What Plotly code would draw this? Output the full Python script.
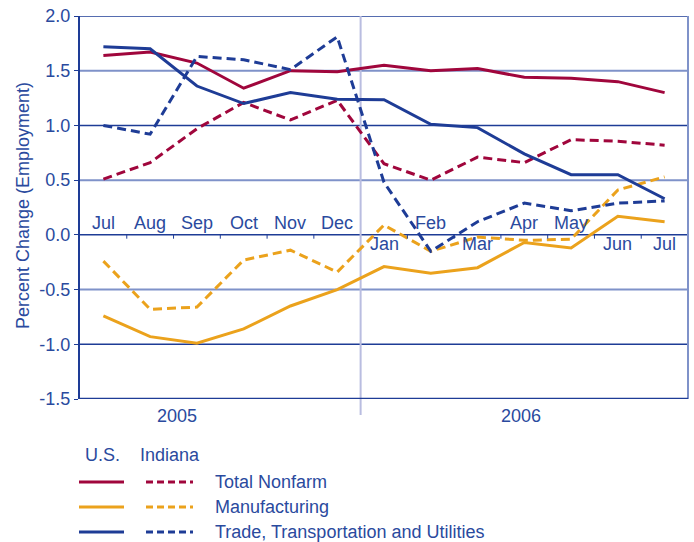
import plotly.graph_objects as go

months = ["Jul", "Aug", "Sep", "Oct", "Nov", "Dec", "Jan", "Feb", "Mar", "Apr", "May", "Jun", "Jul"]
label_below = [False, False, False, False, False, False, True, False, True, False, False, True, True]
years = ["2005", "2006"]

us_nonfarm = [1.64, 1.67, 1.57, 1.34, 1.50, 1.49, 1.55, 1.50, 1.52, 1.44, 1.43, 1.40, 1.30]
in_nonfarm = [0.51, 0.66, 0.97, 1.21, 1.05, 1.23, 0.65, 0.50, 0.71, 0.66, 0.87, 0.855, 0.82]
us_mfg = [-0.74, -0.93, -0.99, -0.86, -0.65, -0.50, -0.29, -0.35, -0.30, -0.07, -0.12, 0.17, 0.12]
in_mfg = [-0.24, -0.68, -0.66, -0.23, -0.14, -0.34, 0.09, -0.15, -0.02, -0.05, -0.04, 0.41, 0.53]
us_trade = [1.72, 1.70, 1.36, 1.20, 1.30, 1.24, 1.235, 1.01, 0.98, 0.74, 0.55, 0.55, 0.33]
in_trade = [1.00, 0.92, 1.63, 1.60, 1.51, 1.81, 0.48, -0.15, 0.12, 0.29, 0.22, 0.29, 0.31]

series_names = ["Total Nonfarm", "Manufacturing", "Trade, Transportation and Utilities"]
colors = ["#A0063C", "#EBA21C", "#1E3C96"]
TEXT = "#2A4A9E"
DARK = "#1E3C96"
LIGHT = "#7F92C9"
FONT = "Liberation Sans, Arial, sans-serif"
FS = 18

W, H = 694, 542
L, R, T, B = 80, 6, 16, 143
pw, ph = W - L - R, H - T - B


def px(xp):
    return (xp - L) / pw


def py(yp):
    return (H - B - yp) / ph


def label(xp, yp, text, **kw):
    d = dict(x=px(xp), y=py(yp), xref="paper", yref="paper", text=text, showarrow=False,
             xanchor="center", yanchor="middle", font=dict(size=FS, color=TEXT, family=FONT))
    d.update(kw)
    return d


x = list(range(len(months)))
fig = go.Figure()

# grid lines (alternating dark / light)
for v in [2.0, 1.5, 1.0, 0.5, 0.0, -0.5, -1.0]:
    dark = abs(v * 2) % 2 == 0
    fig.add_shape(type="line", xref="paper", yref="y", x0=0, x1=1, y0=v, y1=v,
                  line=dict(color=DARK if dark else LIGHT, width=1.5 if dark else 2), layer="below")
# right border
fig.add_shape(type="line", xref="paper", yref="paper", x0=1, x1=1, y0=0, y1=1,
              line=dict(color=LIGHT, width=2), layer="below")
# year separator
fig.add_shape(type="line", xref="x", yref="paper", x0=5.5, x1=5.5, y0=py(415), y1=1,
              line=dict(color="#B9BDE0", width=2), layer="below")
# small ticks on zero line
for i in range(len(months) - 1):
    if i == 5:
        continue
    fig.add_shape(type="line", xref="x", yref="y", x0=i + 0.5, x1=i + 0.5, y0=0, y1=-0.035,
                  line=dict(color=DARK, width=1))

data = [(us_nonfarm, in_nonfarm), (us_mfg, in_mfg), (us_trade, in_trade)]
for (us, ind), name, c in zip(data, series_names, colors):
    fig.add_trace(go.Scatter(x=x, y=ind, mode="lines", name="Indiana " + name,
                             line=dict(color=c, width=3, dash="9px,5px")))
    fig.add_trace(go.Scatter(x=x, y=us, mode="lines", name="U.S. " + name,
                             line=dict(color=c, width=3)))

# bottom axis line
fig.add_shape(type="line", xref="paper", yref="y", x0=0, x1=1, y0=-1.5, y1=-1.5,
              line=dict(color=DARK, width=2.5))

ann = []
for i, (m, below) in enumerate(zip(months, label_below)):
    ann.append(dict(x=i, y=0, xref="x", yref="y", text=m, showarrow=False,
                    yanchor="top" if below else "bottom", yshift=3 if below else 0,
                    font=dict(size=FS, color=TEXT, family=FONT)))
ann.append(label(177, 416, years[0]))
ann.append(label(521, 416, years[1]))
ann.append(label(23, 206, "Percent Change (Employment)", textangle=-90))
# legend
ann.append(label(102, 455, "U.S."))
ann.append(label(170, 455, "Indiana"))
for k, (name, c) in enumerate(zip(series_names, colors)):
    yp = 482 + 25 * k
    yy = py(yp)
    fig.add_shape(type="line", xref="paper", yref="paper", x0=px(79), x1=px(124), y0=yy, y1=yy,
                  line=dict(color=c, width=3))
    fig.add_shape(type="line", xref="paper", yref="paper", x0=px(146), x1=px(193), y0=yy, y1=yy,
                  line=dict(color=c, width=3, dash="7px,4px"))
    ann.append(label(213, yp, name, xanchor="left"))

fig.update_layout(
    width=W, height=H, margin=dict(l=L, r=R, t=T, b=B, autoexpand=False),
    paper_bgcolor="white", plot_bgcolor="white", showlegend=False,
    annotations=ann,
    xaxis=dict(range=[-0.5, 12.5], visible=False, fixedrange=True, automargin=False),
    yaxis=dict(range=[-1.5, 2.0], tickvals=[2.0, 1.5, 1.0, 0.5, 0.0, -0.5, -1.0, -1.5],
               ticktext=["2.0", "1.5", "1.0", "0.5", "0.0", "-0.5", "-1.0", "-1.5"],
               showgrid=False, zeroline=False, showline=True, linecolor=DARK, linewidth=2,
               automargin=False,
               ticks="outside", ticklen=4, tickcolor=DARK, tickfont=dict(size=FS, color=TEXT, family=FONT)),
)
fig.write_html("out.html", config={"displayModeBar": False},
               post_script="document.body.style.margin='0';document.body.style.overflow='hidden';")
